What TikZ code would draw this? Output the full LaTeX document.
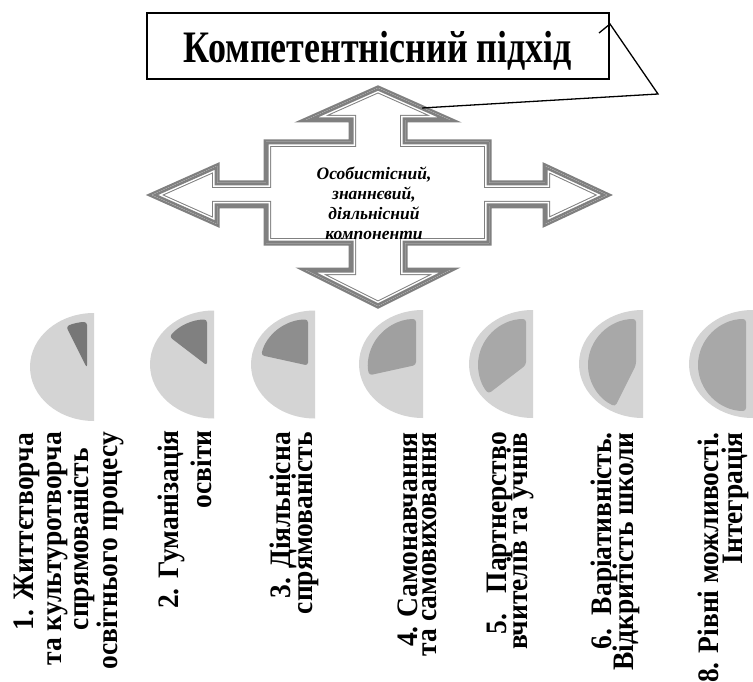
\documentclass[tikz,border=0pt]{standalone}
\usepackage{fontspec}
\usepackage{graphicx}
\setmainfont{Liberation Serif}
\definecolor{discgray}{HTML}{D4D4D4}
\definecolor{arrowgray}{HTML}{808080}
\definecolor{wedgeA}{HTML}{777777}
\definecolor{wedgeB}{HTML}{808080}
\definecolor{wedgeC}{HTML}{8E8E8E}
\definecolor{wedgeD}{HTML}{A0A0A0}
\definecolor{wedgeE}{HTML}{A8A8A8}
\newcommand{\lblT}[1]{\scalebox{1}[1.08]{#1}}
\tikzset{
  lbl/.style={rotate=90, anchor=base east, inner sep=0pt, font=\fontsize{27.5}{30}\selectfont\bfseries},
  titlebox/.style={draw, line width=1.5pt, minimum width=462pt, minimum height=66pt, inner sep=0pt,
    text height=34pt, text depth=0pt, font=\fontsize{36}{40}\selectfont\bfseries},
  coretext/.style={align=center, inner sep=0pt, font=\fontsize{17.5}{20}\selectfont\bfseries\itshape},
  callout/.style={draw=black, line width=1.3pt},
}
\newcommand{\mypie}[4]{%
  \fill[discgray] (#1,#2-54) arc[start angle=270, end angle=90, x radius=64, y radius=54] -- cycle;
  \fill[#4, rounded corners=3pt] (#1-7,#2+1) -- (#1-7,#2-45) arc[start angle=270, end angle={270-#3}, x radius=48, y radius=46] -- cycle;
}
\def\crosspath{(378,88) -- (450,120) -- (405,120) -- (405,142) -- (489,142) -- (489,183) -- (545,183) -- (545,166) -- (607,195) -- (545,224) -- (545,206) -- (489,206) -- (489,243) -- (405,243) -- (405,270) -- (450,270) -- (378,306) -- (306,270) -- (351,270) -- (351,243) -- (266,243) -- (266,206) -- (217,206) -- (217,224) -- (152,195) -- (217,166) -- (217,183) -- (266,183) -- (266,142) -- (351,142) -- (351,120) -- (306,120) -- cycle}
\begin{document}
\begin{tikzpicture}[x=1pt, y=-1pt]
\useasboundingbox[fill=white] (0,0) rectangle (753,682);

% cross arrow with thick-thin double outline
\fill[white] \crosspath;
\draw[arrowgray, line width=5pt, line join=miter] \crosspath;
\begin{scope}
  \clip \crosspath;
  \draw[white, line width=20pt] \crosspath;
  \draw[arrowgray, line width=10pt, line join=miter] \crosspath;
  \draw[white, line width=8pt, line join=miter] \crosspath;
  \draw[arrowgray, line width=5pt, line join=miter] \crosspath;
\end{scope}
\node[coretext] (core) at (374,203) {Особистісний,\\знаннєвий,\\діяльнісний\\компоненти};

% title with callout
\node[titlebox] (title) at (378,46) {\scalebox{1}[1.25]{Компетентнісний підхід}};
\coordinate (c1) at (599,33);
\coordinate (c2) at (610,24);
\coordinate (c3) at (658,94);
\coordinate (c4) at (422,108);
\draw[callout] (c1) -- (c2) -- (c3) -- (c4);

% pies
\mypie{94}{367}{25.7}{wedgeA}
\mypie{214}{364.5}{51.4}{wedgeB}
\mypie{315}{364.5}{77.1}{wedgeC}
\mypie{423}{364}{102.9}{wedgeD}
\mypie{533}{364}{128.6}{wedgeE}
\mypie{643}{364}{154.3}{wedgeE}
\mypie{753}{364}{180}{wedgeE}

% labels
\node[lbl] (l1a) at (33,433) {\lblT{1. Життєтворча}};
\node[lbl] (l1b) at (61,432) {\lblT{та культуротворча}};
\node[lbl] (l1c) at (88,448) {\lblT{спрямованість}};
\node[lbl] (l1d) at (117,432) {\lblT{освітнього процесу}};
\node[lbl] (l2a) at (178,430) {\lblT{2. Гуманізація}};
\node[lbl] (l2b) at (211,430) {\lblT{освіти}};
\node[lbl] (l3a) at (290,432) {\lblT{3. Діяльнісна}};
\node[lbl] (l3b) at (312,432) {\lblT{спрямованість}};
\node[lbl] (l4a) at (417,432) {\lblT{4. Самонавчання}};
\node[lbl] (l4b) at (436,432) {\lblT{та самовиховання}};
\node[lbl] (l5a) at (506,432) {\lblT{5.\hspace{0.75em}Партнерство}};
\node[lbl] (l5b) at (527,432) {\lblT{вчителів та учнів}};
\node[lbl] (l6a) at (611,432) {\lblT{6.\hspace{0.5em}Варіативність.}};
\node[lbl] (l6b) at (633,432) {\lblT{Відкритість школи}};
\node[lbl] (l8a) at (718,432) {\lblT{8. Рівні можливості.}};
\node[lbl] (l8b) at (742,432) {\lblT{Інтеграція}};
\end{tikzpicture}
\end{document}
